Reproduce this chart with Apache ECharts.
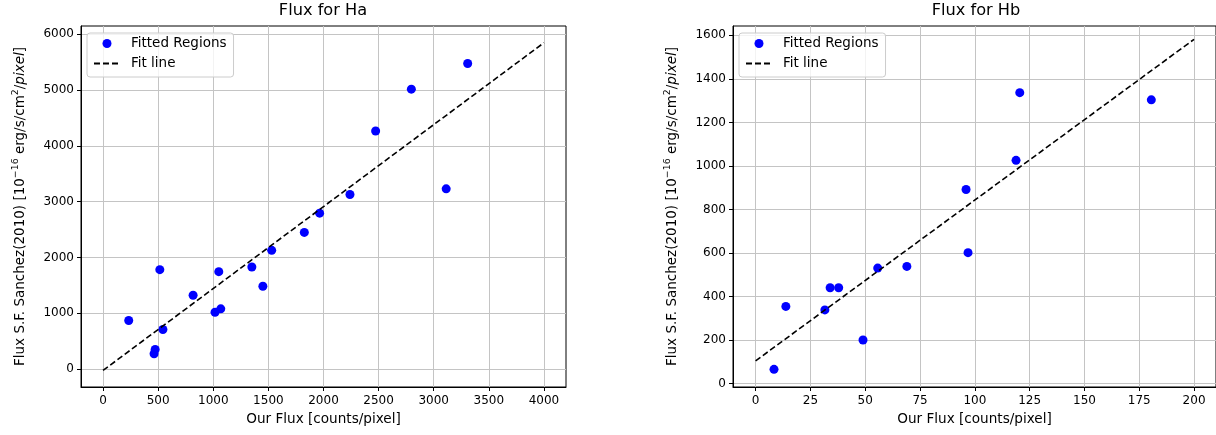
<!DOCTYPE html>
<html>
<head>
<meta charset="utf-8">
<title>Flux for Ha / Hb</title>
<script src="https://cdn.jsdelivr.net/npm/echarts@6/dist/echarts.min.js"></script>
<style>
html, body { margin: 0; padding: 0; background: #fff; }
#chart { width: 1216px; height: 435px; }
</style>
</head>
<body>
<div id="chart"></div>
<script>
// Ha panel: fitted regions + fit line
var haX = [233, 515, 543, 463, 473, 817, 1016, 1068, 1050, 1350, 1450, 1530, 1826, 1965, 2240, 2473, 2797, 3113, 3308]
var haY = [870, 1782, 709, 274, 352, 1323, 1019, 1079, 1746, 1830, 1484, 2128, 2449, 2795, 3129, 4267, 5018, 3230, 5477]
var haFitX = [0, 4000]
var haFitY = [-25, 5850]
var haXTicks = [0, 500, 1000, 1500, 2000, 2500, 3000, 3500, 4000]
var haYTicks = [0, 1000, 2000, 3000, 4000, 5000, 6000]

// Hb panel
var hbX = [8.4, 13.8, 31.6, 34.0, 37.9, 49.0, 55.7, 69.0, 96.0, 96.9, 118.8, 120.5, 180.5]
var hbY = [66, 355, 339, 441, 441, 201, 531, 539, 892, 602, 1026, 1337, 1304]
var hbFitX = [0, 200]
var hbFitY = [105, 1582]
var hbXTicks = [0, 25, 50, 75, 100, 125, 150, 175, 200]
var hbYTicks = [0, 200, 400, 600, 800, 1000, 1200, 1400, 1600]

var FONT = 'DejaVu Sans'
var LABEL_SIZE = 13.6

function pairs (xs, ys) {
  return xs.map(function (x, i) { return [x, ys[i]] })
}

function plain (v) { return String(v) }

// y label with superscripts and italic "pixel"
var yName = '{t|Flux S.F. Sanchez(2010) [10}{s|\u221216}{t| erg/s/cm}{s|2}{t|/}{i|pixel}{t|]}'
var yRich = {
  t: {fontSize: 13.5, fontFamily: FONT, color: '#000', lineHeight: 15.5, verticalAlign: 'bottom'},
  s: {fontSize: 9.4, fontFamily: FONT, color: '#000', lineHeight: 10, verticalAlign: 'top'},
  i: {fontSize: 13.5, fontFamily: FONT, color: '#000', fontStyle: 'italic', lineHeight: 15.5, verticalAlign: 'bottom'}
}

function xAxisFor (idx, min, max, ticks) {
  return {
    type: 'value',
    gridIndex: idx,
    min: min,
    max: max,
    name: 'Our Flux [counts/pixel]',
    nameLocation: 'middle',
    nameGap: 25,
    nameTextStyle: {fontFamily: FONT, fontSize: LABEL_SIZE, color: '#000'},
    axisLine: {show: true, onZero: false, lineStyle: {color: '#000', width: 1}},
    axisTick: {show: true, length: 4, customValues: ticks, lineStyle: {color: '#000'}},
    axisLabel: {customValues: ticks, formatter: plain, margin: 8, fontFamily: FONT, fontSize: 12, color: '#000'},
    splitLine: {show: true, lineStyle: {color: '#c4c4c4', width: 1}}
  }
}

function yAxisFor (idx, min, max, ticks) {
  return {
    type: 'value',
    gridIndex: idx,
    min: min,
    max: max,
    name: yName,
    nameLocation: 'middle',
    nameRotate: 90,
    nameGap: 54,
    nameTextStyle: {rich: yRich},
    axisLine: {show: true, onZero: false, lineStyle: {color: '#000', width: 1}},
    axisTick: {show: true, length: 4, customValues: ticks, lineStyle: {color: '#000'}},
    axisLabel: {customValues: ticks, formatter: plain, margin: 7, fontFamily: FONT, fontSize: 12, color: '#000'},
    splitLine: {show: true, lineStyle: {color: '#c4c4c4', width: 1}}
  }
}

function legendAt (left) {
  return {
    orient: 'vertical',
    left: left,
    top: 33,
    data: [
      {name: 'Fitted Regions'},
      {name: 'Fit line', itemStyle: {opacity: 0}}
    ],
    itemWidth: 26,
    itemHeight: 9,
    itemGap: 5,
    padding: [3, 7, 6, 6],
    borderColor: '#cccccc',
    borderWidth: 1,
    borderRadius: 3,
    backgroundColor: 'rgba(255,255,255,0.8)',
    selectedMode: false,
    textStyle: {fontFamily: FONT, fontSize: 13.5, color: '#000', lineHeight: 15, padding: [0, 0, 0, 6]}
  }
}

var chart = echarts.init(document.getElementById('chart'))
chart.setOption({
  animation: false,
  backgroundColor: '#fff',
  graphic: [
    {type: 'text', x: 323, y: 3, style: {text: 'Flux for Ha', textAlign: 'center', textVerticalAlign: 'top', fontFamily: FONT, fontSize: 16.2, fill: '#000'}},
    {type: 'text', x: 976, y: 3, style: {text: 'Flux for Hb', textAlign: 'center', textVerticalAlign: 'top', fontFamily: FONT, fontSize: 16.2, fill: '#000'}}
  ],
  grid: [
    {left: 81, top: 26, width: 485, height: 361, show: true, borderColor: '#000', borderWidth: 1, containLabel: false},
    {left: 733, top: 26, width: 486, height: 361, show: true, borderColor: '#000', borderWidth: 1, containLabel: false}
  ],
  legend: [legendAt(87), legendAt(739)],
  xAxis: [
    xAxisFor(0, -200, 4200, haXTicks),
    xAxisFor(1, -10.3, 210, hbXTicks)
  ],
  yAxis: [
    yAxisFor(0, -322, 6150, haYTicks),
    yAxisFor(1, -15, 1643, hbYTicks)
  ],
  series: [
    {
      name: 'Fitted Regions',
      type: 'scatter',
      xAxisIndex: 0,
      yAxisIndex: 0,
      symbolSize: 9,
      itemStyle: {color: '#0000ff', opacity: 1},
      data: pairs(haX, haY)
    },
    {
      name: 'Fit line',
      type: 'line',
      xAxisIndex: 0,
      yAxisIndex: 0,
      symbol: 'none',
      lineStyle: {color: '#000', width: 1.6, type: [6, 3]},
      itemStyle: {color: '#000'},
      data: pairs(haFitX, haFitY)
    },
    {
      name: 'Fitted Regions',
      type: 'scatter',
      xAxisIndex: 1,
      yAxisIndex: 1,
      symbolSize: 9,
      itemStyle: {color: '#0000ff', opacity: 1},
      data: pairs(hbX, hbY)
    },
    {
      name: 'Fit line',
      type: 'line',
      xAxisIndex: 1,
      yAxisIndex: 1,
      symbol: 'none',
      lineStyle: {color: '#000', width: 1.6, type: [6, 3]},
      itemStyle: {color: '#000'},
      data: pairs(hbFitX, hbFitY)
    }
  ]
})
</script>
</body>
</html>
